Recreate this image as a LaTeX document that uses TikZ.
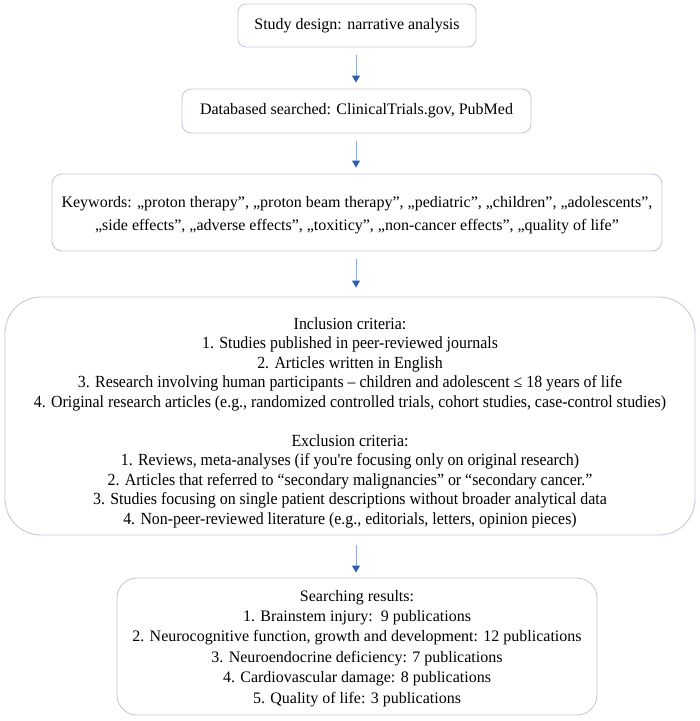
\documentclass[tikz,border=0pt]{standalone}
\usepackage{fontspec}
\setmainfont{Liberation Serif}
\newfontfamily\condfont{Liberation Serif}[FakeStretch=0.935]
\usetikzlibrary{arrows.meta}
\definecolor{boxline}{HTML}{C3CAD8}
\definecolor{arrline}{HTML}{8EAADB}
\definecolor{arrhead}{HTML}{2F5FB0}
\tikzset{
  flowbox/.style={draw=boxline, line width=0.9pt, fill=white, align=center, inner sep=0pt,
    font=\fontsize{16}{19.5}\selectfont},
  flowarrow/.style={draw=arrline, line width=0.9pt,
    -{Triangle[color=arrhead, width=8pt, length=7pt]}, shorten <=8pt, shorten >=6pt},
}
\begin{document}
\begin{tikzpicture}[x=1pt, y=-1pt]
\useasboundingbox (0,0) rectangle (700,721);
\node[flowbox, rounded corners=8pt, minimum width=238pt, minimum height=43pt] (design) at (357,25.5)
  {Study design: narrative analysis};
\node[flowbox, rounded corners=9pt, minimum width=349pt, minimum height=44pt] (db) at (356.5,111)
  {Databased searched: ClinicalTrials.gov, PubMed};
\node[flowbox, rounded corners=10pt, minimum width=610pt, minimum height=77pt] (kw) at (357,212.5)
  {\raisebox{-2.5pt}[\height][\depth]{\begin{tabular}{@{}c@{}}Keywords: „proton therapy”, „proton beam therapy”, „pediatric”, „children”, „adolescents”,\\[3.5pt]
   „side effects”, „adverse effects”, „toxiticy”, „non-cancer effects”, „quality of life”\end{tabular}}};
\node[flowbox, rounded corners=36pt, minimum width=690pt, minimum height=238pt,
  font=\condfont\fontsize{17}{19.5}\selectfont] (crit) at (350,416)
  {\raisebox{-7pt}[\height][\depth]{\begin{tabular}{@{}c@{}}Inclusion criteria:\\
   1. Studies published in peer-reviewed journals\\
   2. Articles written in English\\
   3. Research involving human participants – children and adolescent ≤ 18 years of life\\
   4. Original research articles (e.g., randomized controlled trials, cohort studies, case-control studies)\\[19.5pt]
   Exclusion criteria:\\
   1. Reviews, meta-analyses (if you're focusing only on original research)\\
   2. Articles that referred to “secondary malignancies” or “secondary cancer.”\\
   3. Studies focusing on single patient descriptions without broader analytical data\\
   4. Non-peer-reviewed literature (e.g., editorials, letters, opinion pieces)\end{tabular}}};
\node[flowbox, rounded corners=20pt, minimum width=480pt, minimum height=137pt,
  font=\fontsize{16}{20.4}\selectfont] (res) at (357,646.5)
  {\raisebox{-1.5pt}[\height][\depth]{\begin{tabular}{@{}c@{}}Searching results:\\
   1. Brainstem injury:\ \ 9 publications\\
   2. Neurocognitive function, growth and development: 12 publications\\
   3. Neuroendocrine deficiency: 7 publications\\
   4. Cardiovascular damage: 8 publications\\
   5. Quality of life: 3 publications\end{tabular}}};
\draw[flowarrow] (design.south -| 356,0) -- (db.north -| 356,0);
\draw[flowarrow] (db.south -| 356,0) -- (kw.north -| 356,0);
\draw[flowarrow, shorten >=9pt] (kw.south -| 356,0) -- (crit.north -| 356,0);
\draw[flowarrow, shorten <=10pt, shorten >=5pt] (crit.south -| 356,0) -- (res.north -| 356,0);
\end{tikzpicture}
\end{document}
